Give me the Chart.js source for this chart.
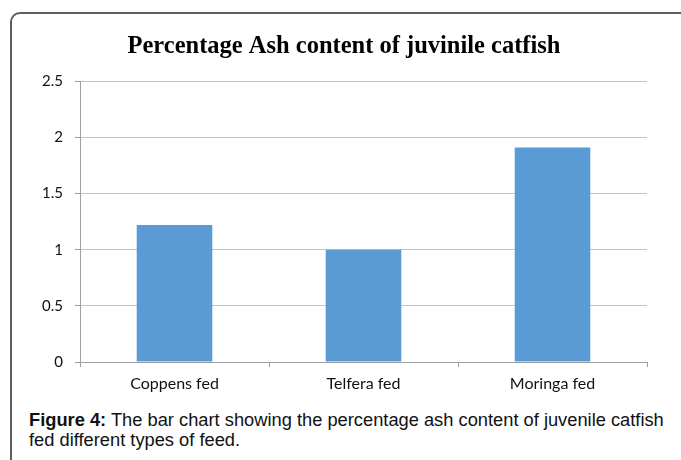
<!DOCTYPE html>
<html>
<head>
<meta charset="utf-8">
<script src="https://cdn.jsdelivr.net/npm/chart.js@4"></script>
<style>
  body { margin: 0; background: #fff; width: 681px; height: 460px; overflow: hidden; position: relative; }
  #frame { position: absolute; left: 10px; top: 12px; width: 720px; height: 500px; border: 2px solid #5e5e5e; border-top-left-radius: 10px; box-sizing: border-box; }
  #chart { position: absolute; left: 0; top: 0; }
  #caption { position: absolute; left: 29px; top: 410px; width: 660px; font-family: "Liberation Sans", Arial, sans-serif; font-size: 18.3px; line-height: 20px; color: #111; white-space: nowrap; }
</style>
</head>
<body>
<div id="frame"></div>
<canvas id="chart" width="681" height="400"></canvas>
<div id="caption"><b>Figure 4:</b> The bar chart showing the percentage ash content of juvenile catfish<br>fed different types of feed.</div>
<script>
const feeds = ['Coppens fed', 'Telfera fed', 'Moringa fed'];
const ashContent = [1.22, 1.0, 1.91];
const yTicks = [0, 0.5, 1, 1.5, 2, 2.5];

document.addEventListener('DOMContentLoaded', () => {
    const ctx = document.getElementById('chart').getContext('2d');
    new Chart(ctx, {
        type: 'bar',
        data: {
            labels: feeds,
            datasets: [{
                label: 'Ash content',
                data: ashContent,
                backgroundColor: '#5b9bd5',
                borderWidth: 0,
                barPercentage: 0.4,
                categoryPercentage: 1
            }]
        },
        options: {
            responsive: false,
            animation: false,
            layout: { padding: { top: 32, left: 41, right: 34, bottom: 0 } },
            plugins: {
                legend: { display: false },
                tooltip: { enabled: false },
                title: {
                    display: true,
                    text: 'Percentage Ash content of juvinile catfish',
                    color: '#000',
                    font: { family: '"Liberation Serif", "Times New Roman", serif', size: 24.5, weight: 'bold' },
                    padding: { top: 0, bottom: 20 }
                }
            },
            scales: {
                x: {
                    afterFit: (scale) => { scale.height = 38; },
                    grid: { display: true, offset: true, drawOnChartArea: false, drawTicks: true, tickLength: 5, color: '#a0a0a0' },
                    border: { display: true, color: '#a0a0a0' },
                    ticks: { color: '#111', padding: 7, font: { family: 'Lato, "Open Sans", sans-serif', size: 16 } }
                },
                y: {
                    min: 0,
                    max: 2.5,
                    afterFit: (scale) => { scale.width = 39; },
                    afterBuildTicks: (scale) => { scale.ticks = yTicks.map(v => ({ value: v })); },
                    grid: { color: '#c4c4c4', tickLength: 5, tickColor: '#a0a0a0' },
                    border: { display: true, color: '#a0a0a0' },
                    ticks: { color: '#111', padding: 12, callback: (v) => String(v), font: { family: 'Lato, "Open Sans", sans-serif', size: 15 } }
                }
            }
        }
    });
});
</script>
</body>
</html>
